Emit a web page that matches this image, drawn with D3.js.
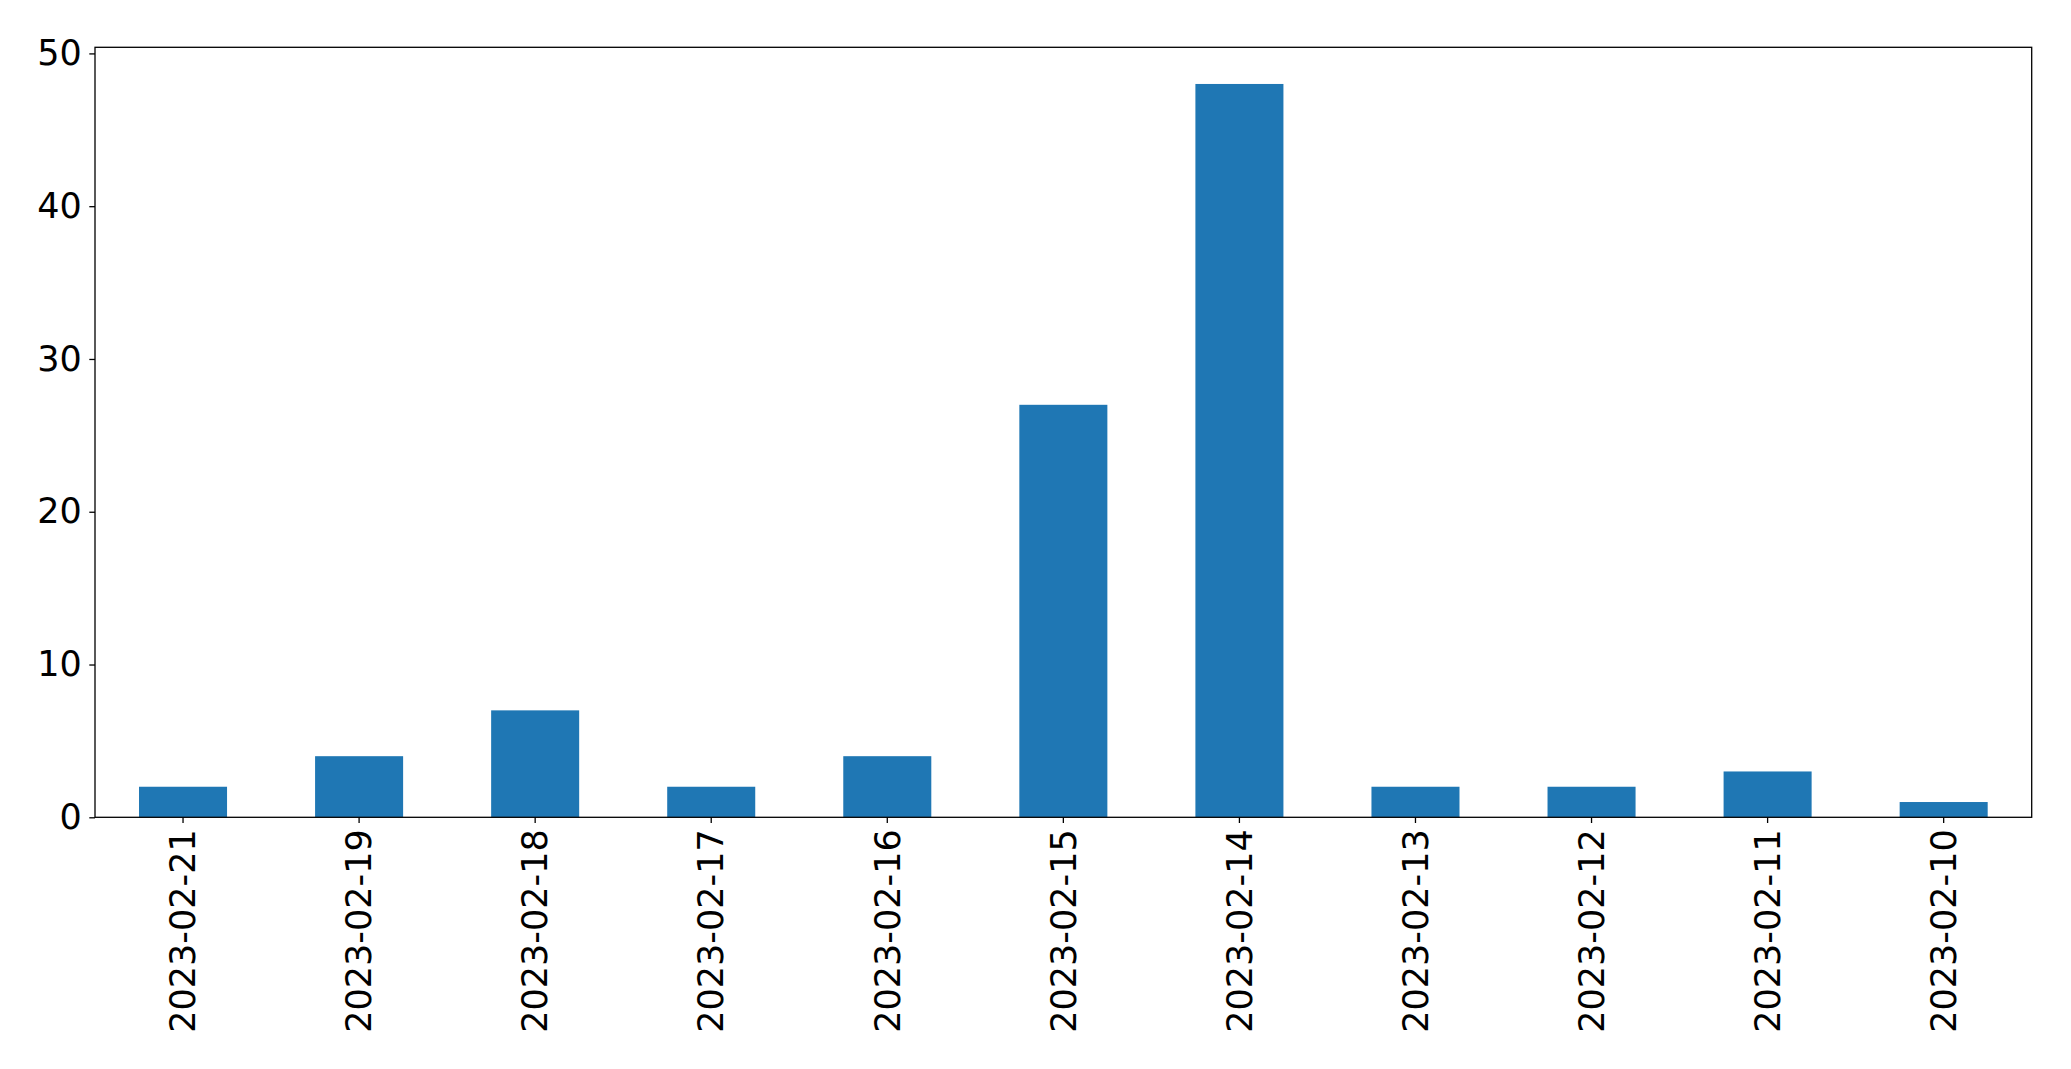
<!DOCTYPE html>
<html><head><meta charset="utf-8">
<script src="https://cdn.jsdelivr.net/npm/d3@7"></script>
<style>html,body{margin:0;padding:0;background:#fff;}svg{display:block;}</style>
</head><body>
<script>
const categories = ["2023-02-21","2023-02-19","2023-02-18","2023-02-17","2023-02-16","2023-02-15","2023-02-14","2023-02-13","2023-02-12","2023-02-11","2023-02-10"];
const values = [2,4,7,2,4,27,48,2,2,3,1];
const yTicks = [0,10,20,30,40,50];

const W = 2071, H = 1069;
const m = {left:95, right:W-2031.7, top:47.3, bottom:H-817.3};
const svg = d3.select("body").append("svg").attr("width",W).attr("height",H);
const x = d3.scaleBand().domain(categories).range([m.left, W-m.right]).paddingInner(0.5).paddingOuter(0.25);
const y = d3.scaleLinear().domain([0, d3.max(values)*1.05]).range([H-m.bottom, m.top]);

svg.append("g").selectAll("rect").data(values).join("rect")
  .attr("x",(d,i)=>x(categories[i])).attr("width",x.bandwidth())
  .attr("y",d=>y(d)).attr("height",d=>y(0)-y(d)).attr("fill","#1f77b4");

const font = "DejaVu Sans";
const yAxis = svg.append("g").attr("transform",`translate(${m.left},0)`)
  .call(d3.axisLeft(y).tickValues(yTicks).tickSize(5.7).tickPadding(7.5));
yAxis.select(".domain").remove();
yAxis.selectAll("text").attr("font-family",font).attr("font-size",35).attr("fill","#000");
yAxis.selectAll("line").attr("stroke","#000").attr("stroke-width",1.3);

const xAxis = svg.append("g").attr("transform",`translate(0,${H-m.bottom})`)
  .call(d3.axisBottom(x).tickSize(5.7).tickPadding(5.7));
xAxis.select(".domain").remove();
xAxis.selectAll("line").attr("stroke","#000").attr("stroke-width",1.3);
xAxis.selectAll("text").attr("font-family",font).attr("font-size",35).attr("fill","#000")
  .attr("transform","rotate(-90)").attr("text-anchor","end").attr("dy","0.35em")
  .attr("x",-12).attr("y",0);

svg.append("rect").attr("x",m.left).attr("y",m.top)
  .attr("width",W-m.right-m.left).attr("height",H-m.bottom-m.top)
  .attr("fill","none").attr("stroke","#000").attr("stroke-width",1.3);
</script>
</body></html>
